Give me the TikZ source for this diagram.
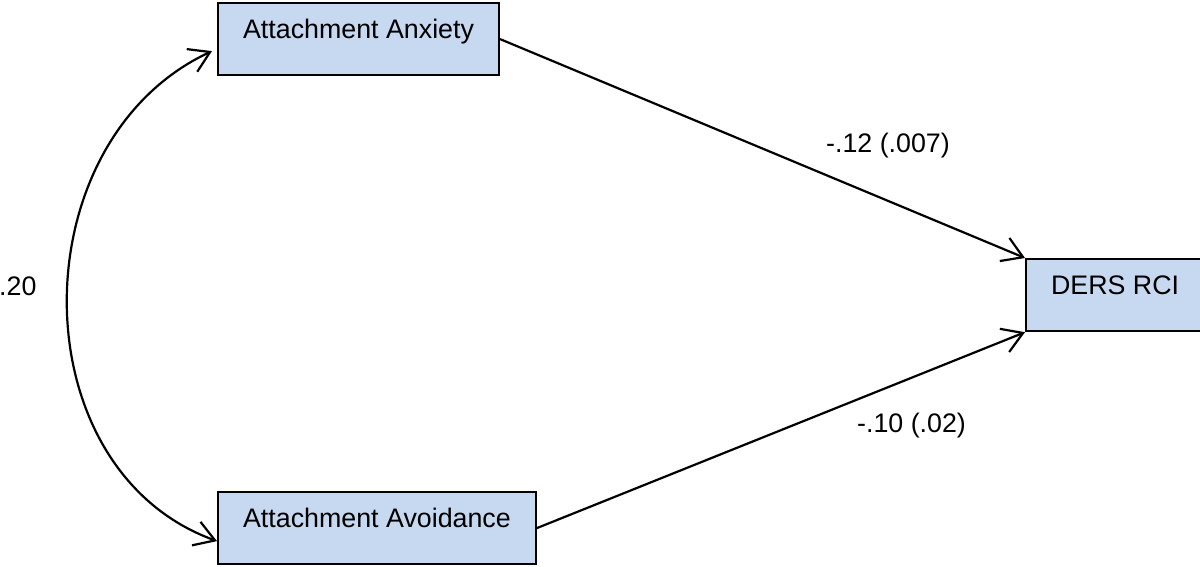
\documentclass[tikz,border=0pt]{standalone}
\usepackage{fontspec}
\setmainfont{Liberation Sans}
\usetikzlibrary{arrows.meta}
\definecolor{boxblue}{RGB}{198,217,240}

\begin{document}
\begin{tikzpicture}[x=1pt, y=-1pt,
  var/.style={draw, line width=2.2pt, fill=boxblue, inner xsep=25pt, inner ysep=0pt,
    text height=35pt, text depth=37pt, font=\fontsize{26.8}{30}\selectfont},
  coef/.style={inner sep=0pt, font=\fontsize{26.8}{30}\selectfont},
  barb/.tip={Straight Barb[length=20pt, width=25pt]},
  reg/.style={line width=2.2pt, -barb}]
\useasboundingbox (0,0) rectangle (1200,566);

% variables
\node[var, anchor=north west] (anx) at (217,2) {Attachment Anxiety};
\node[var, anchor=north west] (avo) at (217,491) {Attachment Avoidance};
\node[var, anchor=north west] (ders) at (1025,258) {DERS RCI};

% paths
\draw[reg] (anx.east) -- (ders.north west);
\draw[reg] (avo.east) -- (ders.south west);
\draw[line width=2.2pt, barb-barb] ([xshift=-5pt, yshift=-12pt]anx.west)
  .. controls +(-193,90) and +(-199,-72) .. ([yshift=-13pt]avo.west);

% coefficients
\node[coef, anchor=base west] (cov) at (-1,295) {.20};
\node[coef, anchor=base west] (b1) at (826,152) {-.12 (.007)};
\node[coef, anchor=base west] (b2) at (857,432) {-.10 (.02)};
\end{tikzpicture}
\end{document}
